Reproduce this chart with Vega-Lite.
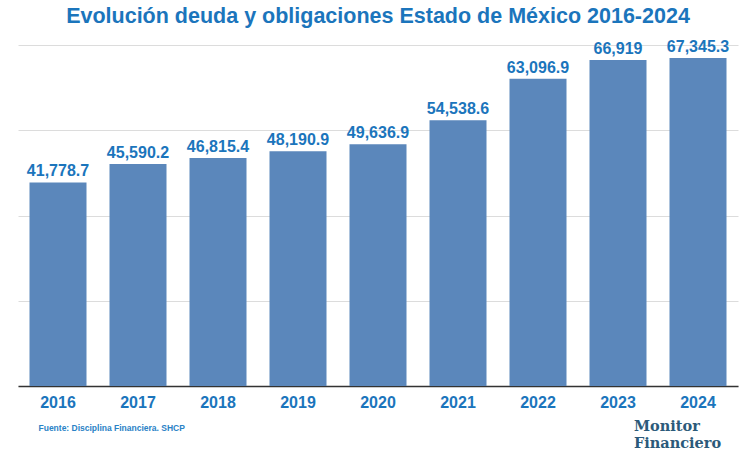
{
  "$schema": "https://vega.github.io/schema/vega-lite/v6.json",
  "autosize": {"type": "none"},
  "width": 720,
  "height": 341,
  "padding": {"left": 18, "top": 45, "right": 12, "bottom": 72},
  "background": "white",
  "title": {
    "text": "Evolución deuda y obligaciones Estado de México 2016-2024",
    "font": "Liberation Sans",
    "fontSize": 21.5,
    "fontWeight": "bold",
    "color": "#1b75bc",
    "anchor": "middle",
    "baseline": "alphabetic",
    "offset": -6
  },
  "data": {
    "values": [
      {"year": "2016", "deuda": 41778.7, "label": "41,778.7"},
      {"year": "2017", "deuda": 45590.2, "label": "45,590.2"},
      {"year": "2018", "deuda": 46815.4, "label": "46,815.4"},
      {"year": "2019", "deuda": 48190.9, "label": "48,190.9"},
      {"year": "2020", "deuda": 49636.9, "label": "49,636.9"},
      {"year": "2021", "deuda": 54538.6, "label": "54,538.6"},
      {"year": "2022", "deuda": 63096.9, "label": "63,096.9"},
      {"year": "2023", "deuda": 66919, "label": "66,919"},
      {"year": "2024", "deuda": 67345.3, "label": "67,345.3"}
    ]
  },
  "encoding": {
    "x": {
      "field": "year",
      "type": "nominal",
      "sort": null,
      "scale": {"paddingInner": 0.2875, "paddingOuter": 0.14375},
      "axis": {
        "title": "Fuente: Disciplina Financiera. SHCP",
        "titleFont": "Liberation Sans",
        "titleFontSize": 8.5,
        "titleFontWeight": "bold",
        "titleColor": "#2a82c6",
        "titleAnchor": "start",
        "titleAlign": "left",
        "titleBaseline": "alphabetic",
        "titleX": 20,
        "titleY": 44,
        "labelAngle": 0,
        "labelFont": "Liberation Sans",
        "labelFontSize": 16,
        "labelFontWeight": "bold",
        "labelColor": "#1b75bc",
        "labelPadding": 8,
        "ticks": false,
        "domainColor": "#333333",
        "domainWidth": 1.5,
        "grid": false
      }
    }
  },
  "layer": [
    {
      "mark": {"type": "bar", "color": "#5b87bb"},
      "encoding": {
        "y": {
          "field": "deuda",
          "type": "quantitative",
          "scale": {"domain": [0, 70000], "nice": false},
          "axis": {
            "values": [0, 17500, 35000, 52500, 70000],
            "title": null,
            "labels": false,
            "ticks": false,
            "domain": false,
            "grid": true,
            "gridColor": "#dcdcdc",
            "gridWidth": 1
          }
        }
      }
    },
    {
      "mark": {
        "type": "text",
        "font": "Liberation Sans",
        "fontSize": 16,
        "fontWeight": "bold",
        "color": "#1b75bc",
        "baseline": "alphabetic",
        "dy": -6
      },
      "encoding": {
        "y": {"field": "deuda", "type": "quantitative"},
        "text": {"field": "label"}
      }
    },
    {
      "data": {"values": [{"brand": "Monitor\nFinanciero"}]},
      "mark": {
        "type": "text",
        "font": "DejaVu Serif",
        "fontSize": 14.5,
        "fontWeight": "bold",
        "color": "#2b5a7a",
        "align": "left",
        "baseline": "alphabetic",
        "lineBreak": "\n",
        "lineHeight": 17,
        "dx": -64
      },
      "encoding": {
        "x": {"datum": "2024"},
        "y": {"datum": -9240},
        "text": {"field": "brand"}
      }
    }
  ],
  "config": {"view": {"stroke": null}}
}
